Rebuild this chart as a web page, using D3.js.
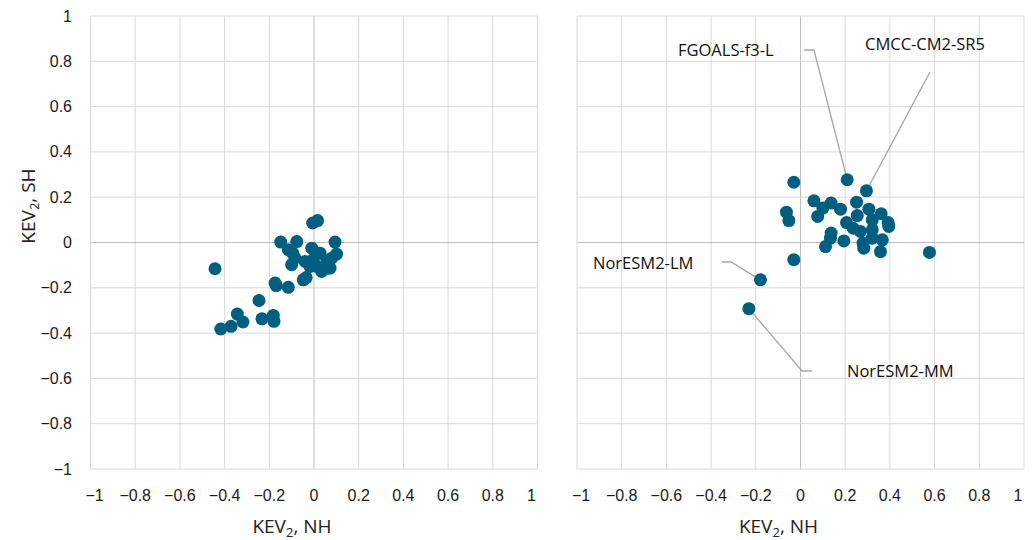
<!DOCTYPE html>
<html>
<head>
<meta charset="utf-8">
<script src="https://cdn.jsdelivr.net/npm/d3@7"></script>
<style>
  body { margin: 0; background: #fff; }
  .tick-label { font-family: "Liberation Sans", Arial, sans-serif; font-size: 16px; fill: #1a1a1a; }
  .axis-title { font-family: "Open Sans", sans-serif; font-size: 19px; fill: #222; }
  .model-label { font-family: "Open Sans", sans-serif; font-size: 16.5px; fill: #111; }
</style>
</head>
<body>
<svg id="chart" width="1035" height="540"></svg>
<script>
// KEV2 NH (x) vs KEV2 SH (y), left panel
var leftNH = [-0.443, -0.417, -0.371, -0.343, -0.318, -0.246, -0.233, -0.182, -0.179, -0.174,
              -0.169, -0.115, -0.149, -0.077, -0.115, -0.095, -0.100, -0.085, -0.048, -0.035,
              -0.006, 0.016, -0.010, -0.018, -0.003, -0.040, 0.027, 0.034, 0.012, 0.057,
              0.072, 0.064, 0.094, 0.101, 0.079];
var leftSH = [-0.116, -0.382, -0.370, -0.316, -0.351, -0.256, -0.337, -0.322, -0.348, -0.179,
              -0.190, -0.198, 0.002, 0.004, -0.032, -0.047, -0.098, -0.069, -0.165, -0.155,
              0.086, 0.097, -0.025, -0.106, -0.076, -0.084, -0.047, -0.128, -0.106, -0.084,
              -0.113, -0.113, 0.002, -0.051, -0.069];

// right panel
var rightModels = ['', 'FGOALS-f3-L', 'CMCC-CM2-SR5', '', '', '', '', '', '', '',
                   '', '', '', '', '', '', '', '', '', '',
                   '', '', '', '', '', '', '', '', '', '',
                   '', '', 'NorESM2-LM', 'NorESM2-MM'];
var rightNH = [-0.030, 0.209, 0.295, 0.060, -0.063, -0.052, 0.077, 0.100, 0.137, 0.179,
               0.251, 0.254, 0.306, 0.361, 0.392, 0.395, 0.321, 0.206, 0.236, 0.268,
               0.321, 0.321, 0.366, 0.283, 0.280, 0.358, 0.137, 0.134, 0.194, 0.112,
               -0.030, 0.577, -0.179, -0.231];
var rightSH = [0.266, 0.277, 0.228, 0.184, 0.134, 0.097, 0.115, 0.152, 0.174, 0.147,
               0.178, 0.119, 0.147, 0.127, 0.088, 0.071, 0.100, 0.088, 0.063, 0.049,
               0.056, 0.019, 0.012, -0.025, -0.003, -0.040, 0.042, 0.019, 0.007, -0.018,
               -0.076, -0.044, -0.165, -0.292];

var tickValues = d3.range(-5, 6).map(function (i) { return i / 5; });
var fmt = d3.format('~g');

// label placement (pixels): text anchor point and leader elbow
var labelLayout = {
    'FGOALS-f3-L':  { tx: 678, ty: 50, elbow: [[814, 50], [804, 50]], anchor: 'start' },
    'CMCC-CM2-SR5': { tx: 865, ty: 44, elbow: [[930, 72]], anchor: 'start' },
    'NorESM2-LM':   { tx: 593, ty: 263, elbow: [[731, 262], [722, 262]], anchor: 'start' },
    'NorESM2-MM':   { tx: 847, ty: 371, elbow: [[802, 371], [812, 371]], anchor: 'start' }
};

var svg = d3.select('#chart');
var plotTop = 16, plotBottom = 469;
var y = d3.scaleLinear().domain([-1, 1]).range([plotBottom, plotTop]);

function panel(x0, x1, xs, ys, names, showY) {
    var x = d3.scaleLinear().domain([-1, 1]).range([x0, x1]);
    var g = svg.append('g');

    // gridlines
    g.selectAll('.vgrid').data(tickValues).enter().append('line')
        .attr('x1', function (d) { return x(d); }).attr('x2', function (d) { return x(d); })
        .attr('y1', plotTop).attr('y2', plotBottom)
        .style('stroke', function (d) { return d === 0 ? '#bfbfbf' : '#d9d9d9'; })
        .style('stroke-width', 1);
    g.selectAll('.hgrid').data(tickValues).enter().append('line')
        .attr('x1', x0).attr('x2', x1)
        .attr('y1', function (d) { return y(d); }).attr('y2', function (d) { return y(d); })
        .style('stroke', function (d) { return d === 0 ? '#bfbfbf' : '#d9d9d9'; })
        .style('stroke-width', 1);

    // x tick labels
    g.selectAll('.xlab').data(tickValues).enter().append('text')
        .attr('class', 'tick-label')
        .attr('x', function (d) { return x(d) + (d === -1 ? 4 : d === 1 ? -6 : 0); })
        .attr('y', 501)
        .style('text-anchor', 'middle')
        .text(function (d) { return fmt(d); });

    var xt = g.append('text').attr('class', 'axis-title')
        .attr('x', (x0 + x1) / 2 - 22).attr('y', 533)
        .style('text-anchor', 'middle');
    xt.append('tspan').text('KEV');
    xt.append('tspan').attr('dy', 4).style('font-size', '13px').text('2');
    xt.append('tspan').attr('dy', -4).text(', NH');

    if (showY) {
        g.selectAll('.ylab').data(tickValues).enter().append('text')
            .attr('class', 'tick-label')
            .attr('x', 72)
            .attr('y', function (d) { return y(d) + 5.5; })
            .style('text-anchor', 'end')
            .text(function (d) { return fmt(d); });
        var yt = g.append('text').attr('class', 'axis-title')
            .attr('transform', 'translate(' + [35, 206] + ') rotate(-90)')
            .style('text-anchor', 'middle');
        yt.append('tspan').text('KEV');
        yt.append('tspan').attr('dy', 4).style('font-size', '13px').text('2');
        yt.append('tspan').attr('dy', -4).text(', SH');
    }

    var pts = xs.map(function (v, i) { return { x: v, y: ys[i], name: names ? names[i] : '' }; });

    // leader lines and labels
    pts.filter(function (p) { return p.name; }).forEach(function (p) {
        var L = labelLayout[p.name];
        var path = [[x(p.x), y(p.y)]].concat(L.elbow);
        g.append('path')
            .attr('d', d3.line()(path))
            .style('fill', 'none')
            .style('stroke', '#a6a6a6')
            .style('stroke-width', 1.3);
        g.append('text').attr('class', 'model-label')
            .attr('x', L.tx).attr('y', L.ty + 6)
            .style('text-anchor', L.anchor)
            .text(p.name);
    });

    g.selectAll('.pt').data(pts).enter().append('circle')
        .attr('cx', function (d) { return x(d.x); })
        .attr('cy', function (d) { return y(d.y); })
        .attr('r', 6.5)
        .style('fill', '#005f80');
}

panel(90.5, 537.5, leftNH, leftSH, null, true);
panel(577, 1024, rightNH, rightSH, rightModels, false);
</script>
</body>
</html>
